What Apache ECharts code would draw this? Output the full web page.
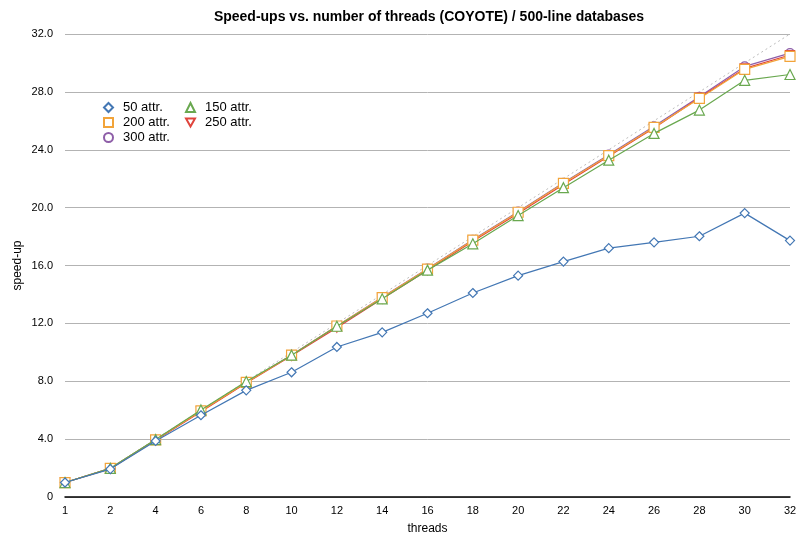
<!DOCTYPE html>
<html><head><meta charset="utf-8">
<script src="https://cdn.jsdelivr.net/npm/echarts@6/dist/echarts.min.js"></script>
<style>html,body{margin:0;padding:0;background:#fff}#c{width:797px;height:539px}</style>
</head><body><div id="c"></div>
<script>
const threads = ['1','2','4','6','8','10','12','14','16','18','20','22','24','26','28','30','32'];
const ideal = [1,2,4,6,8,10,12,14,16,18,20,22,24,26,28,30,32];
const s50  = [1.0,1.93,3.87,5.65,7.37,8.62,10.37,11.38,12.7,14.1,15.3,16.27,17.2,17.6,18.02,19.62,17.72];
const s150 = [1.0,1.98,3.97,6.02,7.98,9.8,11.8,13.7,15.68,17.5,19.45,21.38,23.28,25.13,26.74,28.8,29.2];
const s200 = [1.0,1.98,3.95,5.95,7.92,9.8,11.82,13.78,15.75,17.75,19.68,21.68,23.6,25.55,27.55,29.56,30.45];
const s250 = [1.0,1.96,3.92,5.9,7.88,9.76,11.7,13.7,15.68,17.68,19.6,21.6,23.55,25.5,27.6,29.62,30.55];
const s300 = [1.0,1.98,3.95,5.94,7.92,9.82,11.82,13.8,15.78,17.78,19.72,21.72,23.66,25.62,27.66,29.76,30.68];

const font = 'Liberation Sans, Arial, Helvetica, sans-serif';
const downTri = 'path://M0,0L10,0L5,9Z';
function mk(name, data, color, symbol, size, z, rotate){
  return {name, type:'line', data, z,
    symbol, symbolSize:size, symbolRotate: rotate||0,
    lineStyle:{color, width:1.2},
    itemStyle:{color:'#fff', borderColor:color, borderWidth:1.2},
    emphasis:{disabled:true}, animation:false};
}
const legBase = {orient:'vertical', itemGap:2, itemWidth:9, itemHeight:9,
  textStyle:{fontFamily:font, fontSize:13, color:'#000', padding:[0,0,0,5]}};
const chart = echarts.init(document.getElementById('c'), null, {renderer:'canvas'});
chart.setOption({
  animation:false,
  backgroundColor:'#fff',
  title:{text:'Speed-ups vs. number of threads (COYOTE) / 500-line databases',
    left:424, top:5, textAlign:'center',
    textStyle:{fontFamily:font, fontSize:14, fontWeight:'bold', color:'#000'}},
  legend:[
    Object.assign({}, legBase, {left:98, top:96,
      data:[{name:'50 attr.', icon:'diamond'},{name:'200 attr.', icon:'rect'},{name:'300 attr.', icon:'circle'}]}),
    Object.assign({}, legBase, {left:180, top:96,
      data:[{name:'150 attr.', icon:'triangle'},{name:'250 attr.', icon:downTri}]})
  ],
  grid:{left:65, right:7, top:34, bottom:42, containLabel:false, outerBoundsMode:'none'},
  xAxis:{type:'category', data:threads, boundaryGap:false,
    name:'threads', nameLocation:'middle', nameGap:26, nameMoveOverlap:false,
    nameTextStyle:{fontFamily:font, fontSize:12, color:'#000'},
    axisLine:{lineStyle:{color:'#000', width:1.5}},
    axisTick:{show:false},
    axisLabel:{fontFamily:font, fontSize:11, color:'#000', margin:8, interval:0},
    splitLine:{show:false}},
  yAxis:{type:'value', min:0, max:32, interval:4,
    name:'speed-up', nameLocation:'middle', nameGap:41, nameRotate:90, nameMoveOverlap:false,
    nameTextStyle:{fontFamily:font, fontSize:12, color:'#000'},
    axisLine:{show:false}, axisTick:{show:false},
    axisLabel:{fontFamily:font, fontSize:11, color:'#000', margin:12,
      formatter: v => v===0 ? '0' : v.toFixed(1)},
    splitLine:{lineStyle:{color:'#b3b3b3', width:1}}},
  series:[
    {name:'ideal', type:'line', data:ideal, symbol:'none', z:1,
      lineStyle:{color:'#bdbdbd', width:1, type:[2,3]}, silent:true},
    mk('300 attr.', s300, '#8e5ea8', 'circle', 9, 2),
    mk('250 attr.', s250, '#e0443c', 'triangle', 9, 3, 180),
    mk('200 attr.', s200, '#f2a43a', 'rect', 10, 4),
    mk('150 attr.', s150, '#69a84f', 'triangle', 10, 5),
    mk('50 attr.',  s50,  '#4377b4', 'diamond', 9, 6)
  ]
});
</script></body></html>
